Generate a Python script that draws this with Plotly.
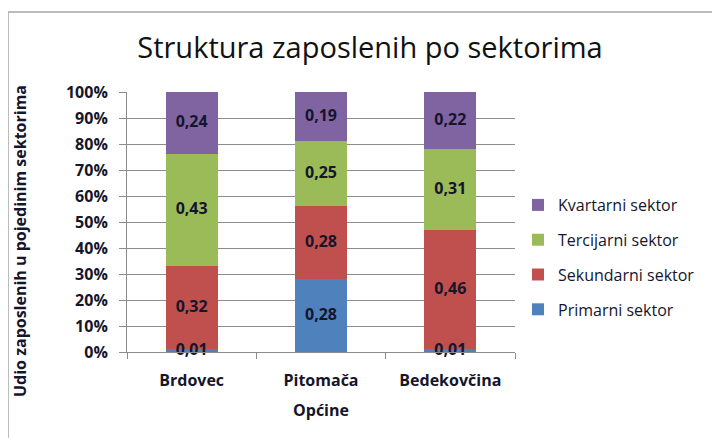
import plotly.graph_objects as go

# Podaci
opcine = ['Brdovec', 'Pitomača', 'Bedekovčina']
primarni = [0.01, 0.28, 0.01]
sekundarni = [0.32, 0.28, 0.46]
tercijarni = [0.43, 0.25, 0.31]
kvartarni = [0.24, 0.19, 0.22]

y_tickovi = [i / 10 for i in range(11)]
y_oznake = ['0%', '10%', '20%', '30%', '40%', '50%', '60%', '70%', '80%', '90%', '100%']

sektori = [
    ('Primarni sektor', primarni, '#4F81BD'),
    ('Sekundarni sektor', sekundarni, '#C0504D'),
    ('Tercijarni sektor', tercijarni, '#9BBB59'),
    ('Kvartarni sektor', kvartarni, '#8064A2'),
]

FONT = 'Open Sans'
TXT = '#15152b'
# stranica ima 8px marginu tijela, pa je slika pomaknuta
W, H = 712, 430
L, R, T, B = 119, 205, 84, 86
pw, ph = W - L - R, H - T - B

fig = go.Figure()
for i, (naziv, vrijednosti, boja) in enumerate(sektori):
    fig.add_trace(go.Bar(
        x=opcine, y=vrijednosti, name=naziv,
        marker_color=boja, marker_line_width=0,
        legendrank=10 - i, legendgroup=str(i),
    ))

# oznake vrijednosti iznad svih stupaca (sredina svakog segmenta)
baza = [0.0] * len(opcine)
for naziv, vrijednosti, boja in sektori:
    sredine = [b + v / 2 for b, v in zip(baza, vrijednosti)]
    fig.add_trace(go.Scatter(
        x=opcine, y=sredine, mode='text',
        text=['<b>' + f'{v:.2f}'.replace('.', ',') + '</b>' for v in vrijednosti],
        textposition='middle center', cliponaxis=False,
        textfont=dict(family=FONT, size=16, color=TXT),
        showlegend=False, hoverinfo='skip',
    ))
    baza = [b + v for b, v in zip(baza, vrijednosti)]

fig.update_layout(
    width=W, height=H,
    barmode='stack', bargap=0.6,
    margin=dict(l=L, r=R, t=T, b=B, autoexpand=False),
    paper_bgcolor='white', plot_bgcolor='white',
    font=dict(family=FONT, color=TXT),
    title=dict(text='Struktura zaposlenih po sektorima',
               x=362 / W, xref='container', xanchor='center',
               y=1 - 40 / H, yref='container', yanchor='middle',
               font=dict(size=29, color='#111', family=FONT)),
    showlegend=True,
    legend=dict(x=(510 - L) / pw, y=(T + ph - 180) / ph, xanchor='left', yanchor='top',
                traceorder='grouped', tracegroupgap=11,
                font=dict(size=16, family=FONT, color=TXT),
                bgcolor='rgba(0,0,0,0)'),
)

fig.update_yaxes(
    range=[0, 1], tickvals=y_tickovi,
    ticktext=['<b>' + t + '</b>' for t in y_oznake],
    showgrid=True, gridcolor='#8c8c8c', gridwidth=1,
    showline=True, linecolor='#8c8c8c', linewidth=1,
    ticks='outside', ticklen=7, tickcolor='#8c8c8c', ticklabelstandoff=8,
    tickfont=dict(size=16, family=FONT, color=TXT),
    zeroline=False,
)
fig.update_xaxes(
    showline=True, linecolor='#8c8c8c', linewidth=1,
    ticks='outside', ticklen=6, tickcolor='#8c8c8c', tickson='boundaries',
    ticklabelstandoff=14,
    tickfont=dict(size=16, family=FONT, color=TXT),
    tickprefix='<b>', ticksuffix='</b>',
    title=dict(text='<b>Općine</b>', font=dict(size=16, family=FONT, color=TXT), standoff=14),
)

# naslov osi y
fig.add_annotation(
    text='<b>Udio zaposlenih u pojedinim sektorima</b>',
    xref='paper', yref='paper', x=(12 - L) / pw, y=(T + ph - 233) / ph,
    xanchor='center', yanchor='middle', textangle=-90, showarrow=False,
    font=dict(size=16, family=FONT, color=TXT),
)

# okvir grafikona
fig.add_shape(type='rect', xref='paper', yref='paper',
              x0=(0 - L) / pw, x1=(730 - L) / pw,
              y0=(T + ph - 440) / ph, y1=(T + ph - 4) / ph,
              line=dict(color='#a6a6a6', width=1.5), layer='below')

fig.write_html('out.html')
